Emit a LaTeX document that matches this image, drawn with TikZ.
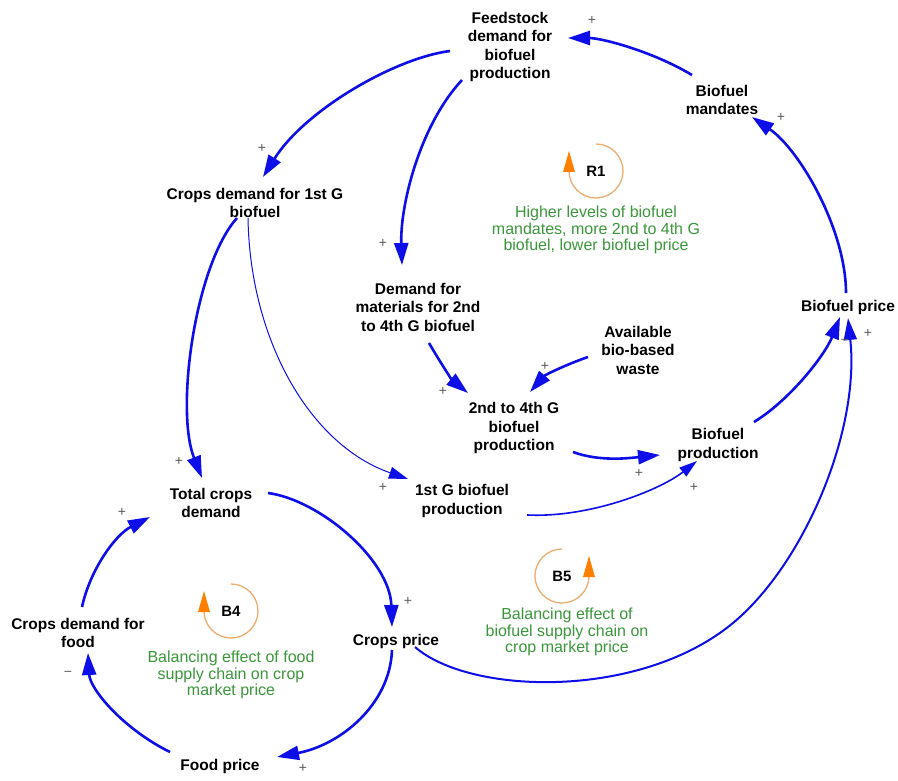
\documentclass[tikz,border=0pt]{standalone}
\usepackage{fontspec}
\setmainfont{Liberation Sans}
\usetikzlibrary{arrows.meta,calc}
\definecolor{linkblue}{RGB}{14,14,232}
\definecolor{loopgreen}{RGB}{60,150,60}
\definecolor{looporange}{RGB}{255,128,0}
\definecolor{looprim}{RGB}{238,172,110}
\definecolor{polgray}{RGB}{90,90,90}
\begin{document}
\begin{tikzpicture}[x=1pt,y=1pt,
  var/.style={inner sep=0pt, align=center, font=\fontsize{15.5}{18.5}\selectfont\bfseries},
  note/.style={inner sep=0pt, align=center, text=loopgreen, font=\fontsize{16}{16.5}\selectfont},
  looplabel/.style={inner sep=0pt, font=\fontsize{15}{15}\selectfont\bfseries},
  pol/.style={inner sep=0pt, text=polgray, font=\fontsize{14}{14}\selectfont},
  thicklink/.style={draw=linkblue, line width=2.6pt, -{Triangle[length=22pt,width=14pt]}},
  midlink/.style={draw=linkblue, line width=2pt, -{Triangle[length=22pt,width=13pt]}},
  thinlink/.style={draw=linkblue, line width=1.6pt, -{Triangle[length=18pt,width=11pt]}},
  hairlink/.style={draw=linkblue, line width=1pt, -{Triangle[length=19pt,width=12pt]}},
  loopring/.style={draw=looprim, line width=1.3pt},
  looptip/.style={fill=looporange},
]
\fill[white] (0,0) rectangle (898,-781);
\useasboundingbox (0,0) rectangle (898,-781);

% variables
\node[var] (feed)   at (510,-47)  {Feedstock\\demand for\\biofuel\\production};
\node[var] (mand)   at (722,-100) {Biofuel\\mandates};
\node[var] (crops1) at (255,-203) {Crops demand for 1st G\\biofuel};
\node[var] (dmat)   at (418,-307) {Demand for\\materials for 2nd\\to 4th G biofuel};
\node[var] (waste)  at (638,-350) {Available\\bio-based\\waste};
\node[var] (g24)    at (514,-428) {2nd to 4th G\\biofuel\\production};
\node[var] (bprod)  at (718,-445) {Biofuel\\production};
\node[var] (bprice) at (848,-307) {Biofuel price};
\node[var] (tcd)    at (211,-503) {Total crops\\demand};
\node[var] (g1)     at (462,-501) {1st G biofuel\\production};
\node[var] (cfood)  at (78,-633)  {Crops demand for\\food};
\node[var] (cprice) at (396,-641) {Crops price};
\node[var] (fprice) at (220,-766) {Food price};

% links
\draw[thicklink] ($(mand)+(-30,25)$) .. controls (650,-50) and (600,-38) .. ($(feed)+(58,9)$);
\draw[thicklink] ($(bprice)+(-2,14)$) .. controls (846,-230) and (800,-150) .. ($(mand)+(30,-17)$);
\draw[thicklink] ($(feed)+(-60,-4)$) .. controls (395,-58) and (305,-110) .. ($(crops1)+(8,26)$);
\draw[thicklink] ($(feed)+(-48,-33)$) .. controls (420,-125) and (400,-205) .. ($(dmat)+(-16,42)$);
\draw[thicklink] ($(crops1)+(-18,-15)$) .. controls (195,-265) and (175,-410) .. ($(tcd)+(-9,25)$);
\draw[hairlink]  ($(crops1)+(-7,-15)$) .. controls (250,-340) and (310,-445) .. ($(g1)+(-54,22)$);
\draw[thicklink] ($(dmat)+(11,-36)$) .. controls (440,-362) and (452,-380) .. ($(g24)+(-46,35)$);
\draw[thicklink] ($(waste)+(-50,-7)$) .. controls (565,-365) and (545,-375) .. ($(g24)+(16,36)$);
\draw[thicklink] ($(g24)+(59,-24)$) .. controls (600,-462) and (630,-458) .. ($(bprod)+(-58,-10)$);
\draw[thinlink]  ($(g1)+(65,-14)$) .. controls (590,-518) and (660,-490) .. ($(bprod)+(-21,-16)$);
\draw[thicklink] ($(bprod)+(36,23)$) .. controls (790,-400) and (825,-355) .. ($(bprice)+(-8,-10)$);
\draw[midlink]   ($(cprice)+(19,-6)$) .. controls (470,-695) and (640,-700) .. (733,-623)
                 .. controls (805,-563) and (860,-430) .. ($(bprice)+(0,-11)$);
\draw[thicklink] ($(tcd)+(57,10)$) .. controls (320,-500) and (390,-560) .. ($(cprice)+(-4,14)$);
\draw[thicklink] ($(cprice)+(-4,-9)$) .. controls (390,-705) and (340,-745) .. ($(fprice)+(57,9)$);
\draw[thicklink] ($(fprice)+(-50,14)$) .. controls (125,-730) and (90,-690) .. ($(cfood)+(10,-20)$);
\draw[thicklink] ($(cfood)+(4,26)$) .. controls (90,-570) and (115,-535) .. ($(tcd)+(-61,-14)$);

% polarities
\node[pol] (p1)  at (592,-20)  {+};
\node[pol] (p2)  at (781,-117) {+};
\node[pol] (p3)  at (262,-148) {+};
\node[pol] (p4)  at (383,-243) {+};
\node[pol] (p5)  at (443,-391) {+};
\node[pol] (p6)  at (545,-366) {+};
\node[pol] (p7)  at (639,-473) {+};
\node[pol] (p8)  at (694,-487) {+};
\node[pol] (p9)  at (868,-333) {+};
\node[pol] (p10) at (845,-342) {−};
\node[pol] (p11) at (179,-461) {+};
\node[pol] (p12) at (383,-487) {+};
\node[pol] (p13) at (122,-512) {+};
\node[pol] (p14) at (408,-601) {+};
\node[pol] (p15) at (68,-674)  {−};
\node[pol] (p16) at (303,-768) {+};

% loop markers
\coordinate (r1c) at (596,-171);
\draw[loopring] ($(r1c)+(0,27)$) arc[start angle=90, end angle=-180, radius=27];
\fill[looptip] ($(r1c)+(-33,-1)$) -- ($(r1c)+(-21,-1)$) -- ($(r1c)+(-27,20)$) -- cycle;
\node[looplabel] (r1) at (r1c) {R1};
\node[note] (r1n) at (596,-230) {Higher levels of biofuel\\mandates, more 2nd to 4th G\\biofuel, lower biofuel price};

\coordinate (b4c) at (231,-611);
\draw[loopring] ($(b4c)+(0,27)$) arc[start angle=90, end angle=-180, radius=27];
\fill[looptip] ($(b4c)+(-33,-1)$) -- ($(b4c)+(-21,-1)$) -- ($(b4c)+(-27,20)$) -- cycle;
\node[looplabel] (b4) at (b4c) {B4};
\node[note] (b4n) at (231,-675) {Balancing effect of food\\supply chain on crop\\market price};

\coordinate (b5c) at (562,-576);
\draw[loopring] ($(b5c)+(0,27)$) arc[start angle=90, end angle=360, radius=27];
\fill[looptip] ($(b5c)+(21,-1)$) -- ($(b5c)+(33,-1)$) -- ($(b5c)+(27,20)$) -- cycle;
\node[looplabel] (b5) at (b5c) {B5};
\node[note] (b5n) at (567,-632) {Balancing effect of\\biofuel supply chain on\\crop market price};
\end{tikzpicture}
\end{document}
